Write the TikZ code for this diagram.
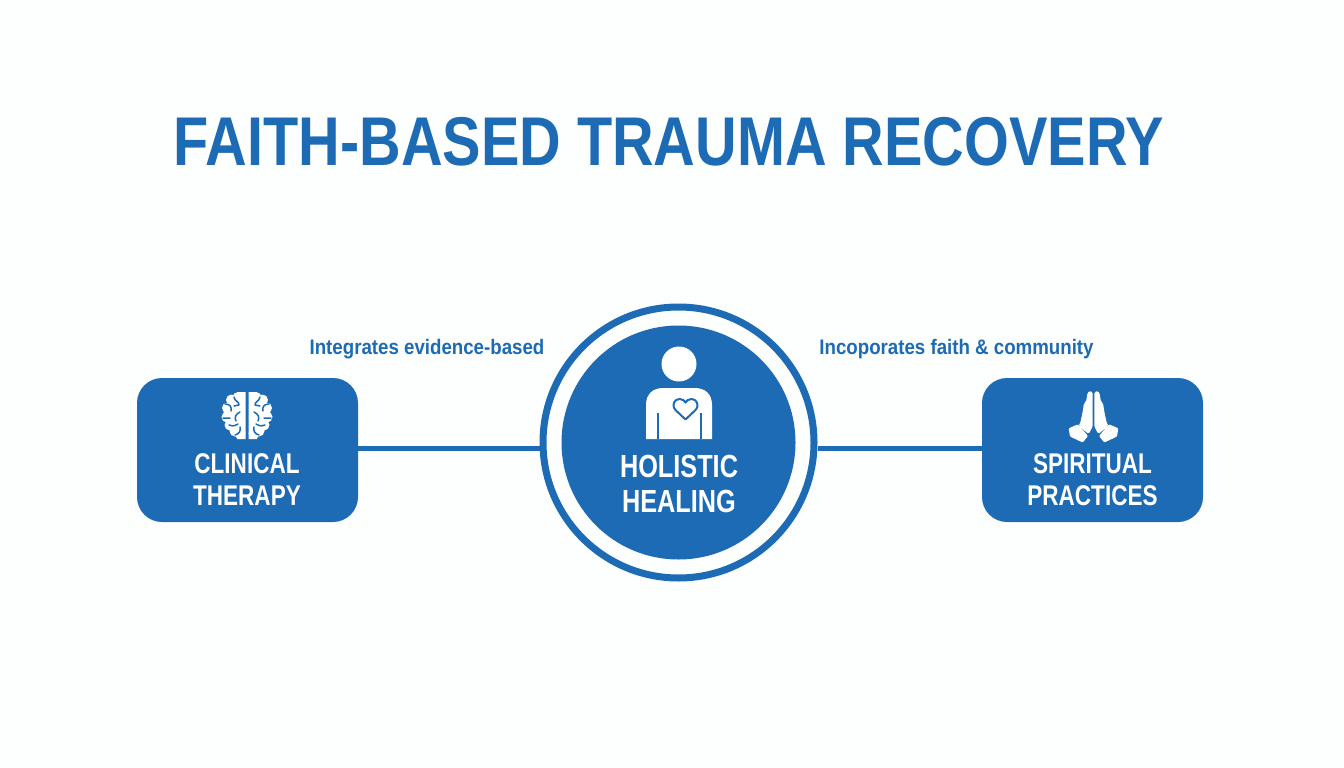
\documentclass[tikz,border=0pt]{standalone}
\usepackage{fontspec}
\setmainfont{Liberation Sans}
\newfontfamily\headfont[FakeStretch=0.835]{Liberation Sans}
\newfontfamily\titlefont[FakeStretch=0.79]{Liberation Sans}
\newfontfamily\labelfont[FakeStretch=0.89]{Liberation Sans}
\definecolor{faithblue}{HTML}{1C6BB4}
\definecolor{paper}{HTML}{FDFEFE}

\begin{document}
\begin{tikzpicture}[x=1pt, y=-1pt]
    \tikzstyle{box vertex} = [rounded corners=25pt,fill=faithblue,minimum width=221pt,minimum height=144pt,inner sep=0pt]
    \tikzstyle{hub ring} = [circle,draw=faithblue,line width=7pt,fill=paper,minimum size=271pt,inner sep=0pt]
    \tikzstyle{hub disk} = [circle,fill=faithblue,minimum size=234pt,inner sep=0pt]
    \tikzstyle{box text} = [text=white,align=center,inner sep=0pt,font=\titlefont\bfseries\fontsize{28.5}{32}\selectfont]
    \tikzstyle{hub text} = [text=white,align=center,inner sep=0pt,font=\titlefont\bfseries\fontsize{32}{35}\selectfont]
    \tikzstyle{edge note} = [text=faithblue,inner sep=0pt,font=\labelfont\bfseries\fontsize{21}{24}\selectfont]
    \tikzstyle{graph edge} = [draw=faithblue,line width=5pt]
\fill[paper] (0,0) rectangle (1344,768);
\useasboundingbox (0,0) rectangle (1344,768);
\node[text=faithblue,inner sep=0pt,font=\headfont\bfseries\fontsize{69}{76}\selectfont] (title) at (669,142) {FAITH-BASED TRAUMA RECOVERY};
\node[hub ring] (ring) at (678.5,442.5) {};
\node[hub disk] (hub) at (678.5,442.5) {};
\node[box vertex] (clinical) at (247.5,450) {};
\node[box vertex] (spiritual) at (1092.5,450) {};
\draw[graph edge] ([yshift=2pt]clinical.east) -- ([yshift=2pt]clinical.east -| ring.west);
\draw[graph edge] ([yshift=2pt]spiritual.west) -- ([yshift=2pt]spiritual.west -| ring.east);
\node[edge note] (note left) at (427,349) {Integrates evidence-based};
\node[edge note] (note right) at (956.5,349) {Incoporates faith \& community};
\node[box text] (clinical text) at (247,480) {CLINICAL\\THERAPY};
\node[box text] (spiritual text) at (1092.5,480) {SPIRITUAL\\PRACTICES};
\node[hub text] (hub text) at (679,483.5) {HOLISTIC\\HEALING};
% person
\fill[white] (679,364) circle (17.5);
\fill[white] (646,439) -- (646,405) .. controls (646,394) and (653,388) .. (663,388) -- (695,388) .. controls (705,388) and (712,394) .. (712,405) -- (712,439) -- cycle;
\draw[faithblue,line width=2pt] (657.5,413) -- (657.5,439) (700.5,413) -- (700.5,439);
\draw[faithblue,fill=white,line width=2pt,line join=round] (685.5,419.5) -- (675.5,410) .. controls (671,405) and (674.5,399) .. (679.5,399) .. controls (682.5,399) and (684.5,400.5) .. (685.5,402.5) .. controls (686.5,400.5) and (688.5,399) .. (691.5,399) .. controls (696.5,399) and (700,405) .. (695.5,410) -- cycle;
% brain
\foreach \side in {1,-1} {
\begin{scope}[shift={(247,0)},xscale=\side]
\fill[white] (-9,397.5) circle (5.5) (-15.5,400) circle (5.5) (-19.5,408) circle (5.5) (-20,417) circle (5.5) (-17,425) circle (5.5) (-12,431) circle (5.5) (-7,433.5) circle (5.5);
\fill[white] (-1.5,392) rectangle (-10,439) (-1.5,400) rectangle (-19,428);
\draw[faithblue,line width=1.5pt,line cap=round] (-13,397) .. controls (-12,402) and (-8,401) .. (-8,405) (-8,405) -- (-13,406) (-22,404) .. controls (-17,404) and (-15,407) .. (-16,411) (-7,412) .. controls (-11,414) and (-13,417) .. (-11,421) (-24,418) -- (-17,418) (-18,425) .. controls (-13,427) and (-11,425) .. (-9,424) (-12,435) .. controls (-8,434) and (-6,431) .. (-7,427);
\end{scope}
}
% hands
\foreach \side in {1,-1} {
\begin{scope}[shift={(1093.5,0)},xscale=\side]
\fill[white,rounded corners=1.5pt] (-0.8,426.5) -- (-0.8,392) -- (-4.5,391) -- (-6,393) -- (-7.5,402) -- (-9.5,403) -- (-11,412.7) -- (-13.2,422.7) -- (-15,426) -- (-4.8,434) -- cycle;
\fill[white,rounded corners=1pt] (-24.8,428.3) -- (-15.5,424.3) -- (-5.5,436) -- (-10.8,442.5) -- (-23.5,436.5) -- cycle;
\end{scope}
}
\end{tikzpicture}
\end{document}
